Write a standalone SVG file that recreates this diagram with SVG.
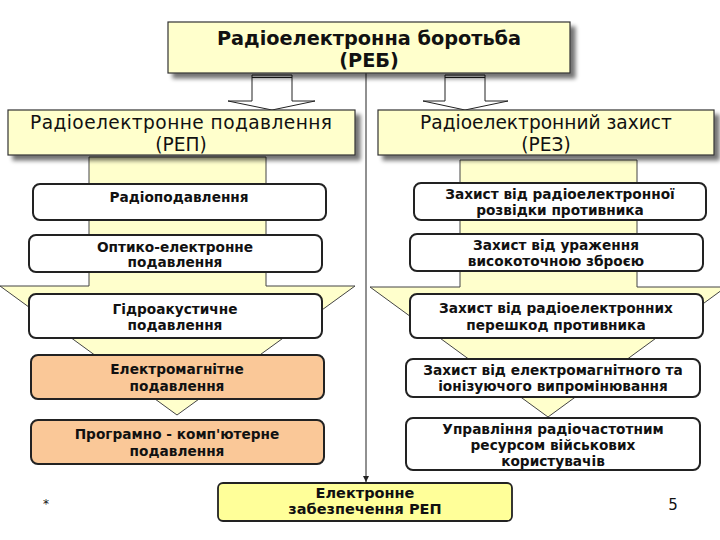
<svg xmlns="http://www.w3.org/2000/svg" width="720" height="540" viewBox="0 0 720 540">
<defs>
<filter id="sh" x="-10%" y="-20%" width="130%" height="160%">
<feGaussianBlur in="SourceAlpha" stdDeviation="2"/>
<feOffset dx="5" dy="5" result="b"/>
<feComponentTransfer><feFuncA type="linear" slope="0.55"/></feComponentTransfer>
<feMerge><feMergeNode/><feMergeNode in="SourceGraphic"/></feMerge>
</filter>
<marker id="ah" viewBox="0 0 10 10" refX="10" refY="5" markerWidth="6" markerHeight="6" orient="auto" markerUnits="userSpaceOnUse">
<path d="M0,0 L10,5 L0,10 z" fill="#222"/>
</marker>
</defs>
<style>
text{font-family:"DejaVu Sans","Verdana",sans-serif;fill:#111;text-anchor:middle}
.hdr{fill:#ffffcc;stroke:#333;stroke-width:1.2}
.big{fill:#ffffcc;stroke:#444;stroke-width:1}
.item{fill:#fff;stroke:#222;stroke-width:2}
.peach{fill:#fac898;stroke:#222;stroke-width:2}
.it{font-size:13.7px;font-weight:bold}
.h2{font-size:18.6px}
.sm{fill:#fff;stroke:#222;stroke-width:1}
</style>
<rect width="720" height="540" fill="#fff"/>

<g id="bigarrows">
<polygon class="big" points="89,157 266,157 266,286 355,286 177,415 0,286 89,286"/>
<polygon class="big" points="460,160 637,160 637,287 726,287 548,417 370,287 460,287"/>
</g>

<g id="connectors">
<polygon class="sm" points="252,75 292,75 292,101 315,101 272,110 228,101 252,101"/>
<line x1="252" y1="77.5" x2="292" y2="77.5" stroke="#222" stroke-width="1"/>
<polygon class="sm" points="445,75 485,75 485,101 508,101 465,110 423,101 445,101"/>
<line x1="445" y1="77.5" x2="485" y2="77.5" stroke="#222" stroke-width="1"/>
<line x1="366" y1="73" x2="366" y2="482" stroke="#222" stroke-width="1" marker-end="url(#ah)"/>
</g>

<g id="reb">
<rect class="hdr" x="168" y="22" width="402" height="51" filter="url(#sh)"/>
<text x="369" y="45" font-size="19.3" font-weight="bold">Радіоелектронна боротьба</text>
<text x="369" y="67" font-size="19.3" font-weight="bold">(РЕБ)</text>
</g>

<g id="rep">
<rect class="hdr" x="8" y="110" width="347" height="45" filter="url(#sh)"/>
<text class="h2" x="181" y="128.5" textLength="302" lengthAdjust="spacing">Радіоелектронне подавлення</text>
<text class="h2" x="181" y="150.5">(РЕП)</text>
</g>

<g id="rez">
<rect class="hdr" x="378" y="110" width="336" height="45" filter="url(#sh)"/>
<text class="h2" x="546" y="128.5">Радіоелектронний захист</text>
<text class="h2" x="546" y="150.5">(РЕЗ)</text>
</g>

<g id="l1"><rect class="item" x="33" y="184" width="293" height="36" rx="7"/>
<text class="it" x="179" y="202">Радіоподавлення</text></g>
<g id="l2"><rect class="item" x="29" y="235" width="293" height="37" rx="7"/>
<text class="it" x="175" y="252">Оптико-електронне</text><text class="it" x="175" y="267">подавлення</text></g>
<g id="l3"><rect class="item" x="29" y="294" width="293" height="44" rx="7"/>
<text class="it" x="175" y="314">Гідроакустичне</text><text class="it" x="175" y="330">подавлення</text></g>
<g id="l4"><rect class="peach" x="31" y="355" width="293" height="44" rx="7"/>
<text class="it" x="177" y="374">Електромагнітне</text><text class="it" x="177" y="391">подавлення</text></g>
<g id="l5"><rect class="peach" x="31" y="420" width="293" height="44" rx="7"/>
<text class="it" x="177" y="439">Програмно - комп'ютерне</text><text class="it" x="177" y="456">подавлення</text></g>

<g id="r1"><rect class="item" x="414" y="183" width="292" height="37" rx="7"/>
<text class="it" x="560" y="199">Захист від радіоелектронної</text><text class="it" x="560" y="215">розвідки противника</text></g>
<g id="r2"><rect class="item" x="410" y="234" width="293" height="37" rx="7"/>
<text class="it" x="556" y="250">Захист від ураження</text><text class="it" x="556" y="266">високоточною зброєю</text></g>
<g id="r3"><rect class="item" x="410" y="294" width="293" height="44" rx="7"/>
<text class="it" x="556" y="313">Захист від радіоелектронних</text><text class="it" x="556" y="330">перешкод противника</text></g>
<g id="r4"><rect class="item" x="406" y="359" width="294" height="38" rx="7"/>
<text class="it" x="553" y="375">Захист від електромагнітного та</text><text class="it" x="553" y="391">іонізуючого випромінювання</text></g>
<g id="r5"><rect class="item" x="406" y="418" width="294" height="52" rx="7"/>
<text class="it" x="553" y="434">Управління радіочастотним</text><text class="it" x="553" y="450">ресурсом  військових</text><text class="it" x="553" y="466">користувачів</text></g>

<g id="ez"><rect x="218" y="483" width="294" height="38" rx="5" fill="#ffff99" stroke="#222" stroke-width="1.8"/>
<text x="365" y="498" font-size="14.5" font-weight="bold">Електронне</text>
<text x="365" y="514" font-size="14.5" font-weight="bold">забезпечення РЕП</text></g>

<text x="46" y="508" font-size="12" font-family="Liberation Sans, sans-serif">*</text>
<text x="673" y="510" font-size="15" font-family="Liberation Sans, sans-serif">5</text>
</svg>
